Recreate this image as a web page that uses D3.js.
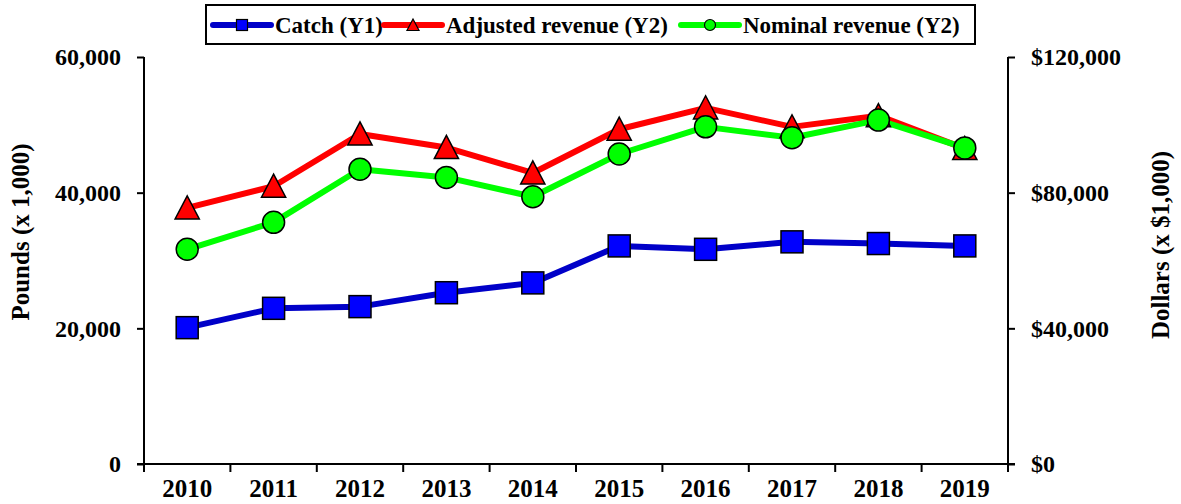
<!DOCTYPE html>
<html>
<head>
  <title>Catch and revenue</title>
  <script src="https://d3js.org/d3.v7.min.js"></script>
  <style>
    body { margin: 0; background: #fff; }
    text { font-family: "Liberation Serif", "Times New Roman", serif; font-weight: bold; fill: #000; }
  </style>
</head>
<body>

  <div id="chart"></div>
  <script type="text/javascript">

  var years = ["2010","2011","2012","2013","2014","2015","2016","2017","2018","2019"];
  var catchLbs = [20100, 22950, 23200, 25250, 26700, 32150, 31650, 32750, 32500, 32150];
  var adjustedRev = [75500, 81900, 97300, 93300, 85800, 98700, 105000, 99400, 102700, 93000];
  var nominalRev = [63300, 71250, 86900, 84500, 78800, 91400, 99400, 96200, 101400, 93200];
  var y1Ticks = [0, 20000, 40000, 60000];
  var y2Ticks = [0, 40000, 80000, 120000];

  var W = 1181, H = 504;
  var pl = 144, pr = 1008, pt = 57, pb = 464;

  var svg = d3.select("#chart").append("svg").attr("width", W).attr("height", H);

  var x = d3.scaleBand().domain(years).range([pl, pr]).padding(0);
  var y1 = d3.scaleLinear().domain([0, 60000]).range([pb, pt]);
  var y2 = d3.scaleLinear().domain([0, 120000]).range([pb, pt]);
  var cx = function(d, i){ return x(years[i]) + x.bandwidth() / 2; };

  // axes
  var fmt = d3.format(",");
  var gl = svg.append("g").attr("transform", "translate(" + pl + ",0)")
    .call(d3.axisLeft(y1).tickValues(y1Ticks).tickFormat(fmt).tickSize(7).tickPadding(16));
  var gr = svg.append("g").attr("transform", "translate(" + pr + ",0)")
    .call(d3.axisRight(y2).tickValues(y2Ticks).tickFormat(function(d){ return "$" + fmt(d); }).tickSize(7).tickPadding(16));
  var gb = svg.append("g").attr("transform", "translate(0," + pb + ")")
    .call(d3.axisBottom(x).tickSize(0).tickPadding(15));
  [gl, gr, gb].forEach(function(g){
    g.select(".domain").attr("stroke", "#000").attr("stroke-width", 2);
    g.selectAll(".tick line").attr("stroke", "#000").attr("stroke-width", 2);
    g.selectAll("text").style("font-size", "24px").attr("fill", "#000");
  });
  gb.selectAll("text").style("font-size", "25px");
  gl.select(".domain").attr("d", "M0," + pt + "V" + pb);
  gr.select(".domain").attr("d", "M0," + pt + "V" + pb);
  gb.select(".domain").attr("d", "M" + (pl - 7) + ",0H" + (pr + 7));

  // category boundary ticks on the x axis
  var edges = years.map(function(d){ return x(d); }).concat([pr]);
  svg.append("g").selectAll("line").data(edges).enter().append("line")
    .attr("x1", function(d){ return d; }).attr("x2", function(d){ return d; })
    .attr("y1", pb).attr("y2", pb + 8)
    .attr("stroke", "#000").attr("stroke-width", 2);

  // axis titles
  svg.append("text").attr("transform", "translate(29,232) rotate(-90)")
    .attr("text-anchor", "middle").style("font-size", "25px").text("Pounds (x 1,000)");
  svg.append("text").attr("transform", "translate(1169,245) rotate(-90)")
    .attr("text-anchor", "middle").style("font-size", "25px").text("Dollars (x $1,000)");

  // series
  var series = [
    { name: "Catch (Y1)", values: catchLbs, scale: y1, line: "#0000c8", fill: "#0000ff", shape: "square" },
    { name: "Adjusted revenue (Y2)", values: adjustedRev, scale: y2, line: "#ff0000", fill: "#ff0000", shape: "triangle" },
    { name: "Nominal revenue (Y2)", values: nominalRev, scale: y2, line: "#00ff00", fill: "#00ff00", shape: "circle" }
  ];

  function marker(g, s, size) {
    if (s.shape == "square")
      return g.append("rect").attr("x", -size / 2).attr("y", -size / 2).attr("width", size).attr("height", size);
    if (s.shape == "triangle")
      return g.append("path").attr("d", "M0," + (-size * 0.55) + "L" + (size * 0.55) + "," + (size * 0.5) + "L" + (-size * 0.55) + "," + (size * 0.5) + "Z");
    return g.append("circle").attr("r", size / 2);
  }

  series.forEach(function(s){
    var line = d3.line().x(cx).y(function(d){ return s.scale(d); });
    svg.append("path").datum(s.values).attr("d", line)
      .attr("fill", "none").attr("stroke", s.line).attr("stroke-width", 6).attr("stroke-linejoin", "round");
  });
  series.forEach(function(s){
    s.values.forEach(function(v, i){
      var g = svg.append("g").attr("transform", "translate(" + cx(v, i) + "," + s.scale(v) + ")");
      marker(g, s, 22).attr("fill", s.fill).attr("stroke", "#000").attr("stroke-width", 1.5);
    });
  });

  // legend
  var leg = svg.append("g");
  leg.append("rect").attr("x", 206).attr("y", 5).attr("width", 769).attr("height", 39)
    .attr("fill", "#fff").attr("stroke", "#000").attr("stroke-width", 2);
  var legX = [213, 384, 681];
  series.forEach(function(s, i){
    var g = leg.append("g").attr("transform", "translate(" + legX[i] + ",25)");
    g.append("line").attr("x1", 0).attr("x2", 58).attr("stroke", s.line).attr("stroke-width", 6).attr("stroke-linecap", "round");
    var m = g.append("g").attr("transform", "translate(29,0)");
    marker(m, s, 11).attr("fill", s.fill).attr("stroke", "#000").attr("stroke-width", 1.2);
    g.append("text").attr("x", 62).attr("y", 8).style("font-size", "23px").text(s.name);
  });

  </script>

</body>
</html>
